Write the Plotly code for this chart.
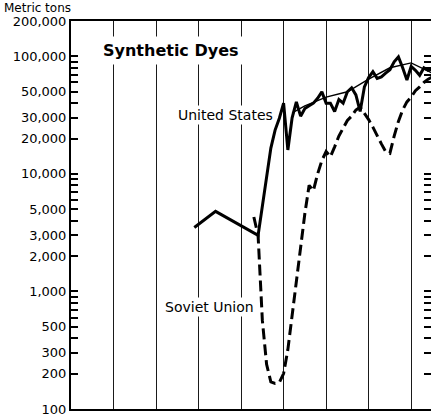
import plotly.graph_objects as go
import numpy as np

# ─── Data ──────────────────────────────────────────────────────────────────────

us_years = [1899, 1904, 1914, 1915, 1916, 1917, 1918, 1919, 1920, 1921, 1922, 1923,
            1924, 1925, 1926, 1927, 1928, 1929, 1930, 1931, 1932, 1933, 1934, 1935,
            1936, 1937, 1938, 1939, 1940, 1941, 1942, 1943, 1944, 1945, 1946, 1947,
            1948, 1949, 1950, 1951, 1952, 1953, 1954, 1955]
us_tons = [3500, 4800, 3000, 5400, 9800, 16600, 23600, 29800, 40000, 16000, 30000, 41000,
           31000, 36000, 38000, 40000, 44000, 50000, 40000, 40000, 34000, 43000, 40000, 50000,
           54000, 47000, 34000, 55000, 66000, 74000, 65000, 67000, 72000, 77000, 90000, 99000,
           80000, 63000, 82000, 76000, 69000, 80000, 76000, 78000]

us_trend_years = [1922, 1925, 1930, 1935, 1940, 1945, 1950, 1955]
us_trend_tons = [33000, 38000, 45000, 50000, 64000, 80000, 88000, 72000]

su_years = [1913, 1914, 1915, 1916, 1917, 1918, 1919, 1920, 1921, 1922, 1923, 1924,
            1925, 1926, 1927, 1928, 1929, 1930, 1931, 1932, 1933, 1934, 1935, 1936,
            1937, 1938, 1939, 1940, 1941, 1942, 1943, 1944, 1945, 1946, 1947, 1948,
            1949, 1950, 1951, 1952, 1953, 1954, 1955]
su_tons = [4300, 3000, 570, 240, 170, 165, 168, 200, 320, 620, 1200, 2400,
           4600, 8000, 7200, 10000, 13000, 15500, 14000, 17000, 21000, 24500, 28500, 31000,
           35000, 37000, 33000, 29000, 25000, 21000, 18000, 15500, 15000, 21000, 28000, 35000,
           41000, 45000, 51000, 55000, 60000, 64000, 67000]

y_ticks = [100, 200, 300, 400, 500, 600, 700, 800, 900,
           1000, 2000, 3000, 4000, 5000, 6000, 7000, 8000, 9000,
           10000, 20000, 30000, 40000, 50000, 60000, 70000, 80000, 90000,
           100000, 200000]
y_labeled = [100, 200, 300, 500, 1000, 2000, 3000, 5000,
             10000, 20000, 30000, 50000, 100000, 200000]

x_grid = [1880, 1890, 1900, 1910, 1920, 1930, 1940, 1950]

# ─── Figure ────────────────────────────────────────────────────────────────────

FONT = "DejaVu Sans"
y_range = [np.log10(100), np.log10(200000)]
y_text = [f"{v:,}" if v in y_labeled else "" for v in y_ticks]

fig = go.Figure()
fig.add_trace(go.Scatter(
    x=us_years, y=us_tons, mode="lines",
    line=dict(color="black", width=3), name="United States",
))
fig.add_trace(go.Scatter(
    x=us_trend_years, y=us_trend_tons, mode="lines", yaxis="y2",
    line=dict(color="black", width=1.4), name="United States trend",
))
fig.add_trace(go.Scatter(
    x=su_years, y=su_tons, mode="lines",
    line=dict(color="black", width=3, dash="11px,5px"), name="Soviet Union",
))

fig.update_layout(
    width=432, height=418,
    margin=dict(l=71, r=0, t=21, b=9),
    paper_bgcolor="white", plot_bgcolor="white",
    showlegend=False,
    font=dict(family=FONT, color="black", size=13),
    xaxis=dict(
        range=[1870, 1954.9], showticklabels=False, ticks="",
        showgrid=True, gridcolor="#1a1a1a", gridwidth=1.3,
        tickvals=x_grid, zeroline=False,
        showline=True, linecolor="black", linewidth=2, mirror=True,
    ),
    yaxis=dict(
        type="log", range=y_range, tickvals=y_ticks, ticktext=y_text,
        ticks="inside", ticklen=7, tickwidth=1.5, tickcolor="black",
        showgrid=False, zeroline=False,
        showline=True, linecolor="black", linewidth=2,
        tickfont=dict(family=FONT, size=13),
    ),
    yaxis2=dict(
        type="log", range=y_range, tickvals=y_ticks, overlaying="y", side="right",
        ticks="inside", ticklen=8, tickwidth=1.5, tickcolor="black",
        showticklabels=False, showgrid=False, zeroline=False, showline=False,
    ),
)

fig.add_annotation(
    text="Metric tons", xref="paper", yref="paper",
    x=-0.191, y=1.034, xanchor="left", yanchor="middle", showarrow=False,
    font=dict(family=FONT, size=12),
)
fig.add_annotation(
    text="<b>Synthetic Dyes</b>", x=1893.5, y=5.054, showarrow=False,
    font=dict(family=FONT, size=16), bgcolor="white", borderpad=4,
)
fig.add_annotation(
    text="United States", x=1906.3, y=4.501, showarrow=False,
    font=dict(family=FONT, size=14), bgcolor="white", borderpad=1,
)
fig.add_annotation(
    text="Soviet Union", x=1902.5, y=2.867, showarrow=False,
    font=dict(family=FONT, size=14), bgcolor="white", borderpad=1,
)

# drop the browser's default body margin so the figure sits at the page corner
fig.write_html(
    "out.html",
    config={"displayModeBar": False},
    post_script="document.body.style.margin = '0';",
)
